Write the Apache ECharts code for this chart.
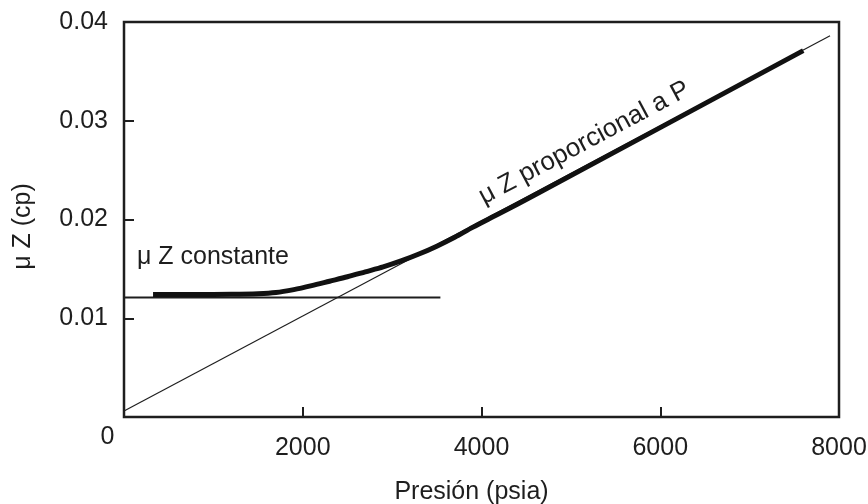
<!DOCTYPE html>
<html>
<head>
<meta charset="utf-8">
<script src="https://cdn.jsdelivr.net/npm/echarts@6/dist/echarts.min.js"></script>
<style>
html,body{margin:0;padding:0;background:#fff;}
#c{width:868px;height:504px;}
</style>
</head>
<body>
<div id="c"></div>
<script>
// Data
var xTicks = [0, 2000, 4000, 6000, 8000];
var yTicks = [0, 0.01, 0.02, 0.03, 0.04];
var thinLineP = [0, 7900];
var thinLineMuZ = [0.0006, 0.0386];
var constLineP = [0, 3540];
var constLineMuZ = [0.0121, 0.0121];
var curveP = [325, 800, 1200, 1500, 1700, 1900, 2100, 2300, 2500, 2700, 2900, 3100, 3300, 3500, 3700, 3900, 4200, 4600, 7600];
var curveMuZ = [0.0124, 0.0124, 0.01242, 0.01248, 0.0126, 0.0129, 0.0133, 0.01375, 0.0142, 0.0147, 0.0152, 0.0158, 0.0165, 0.0173, 0.0182, 0.0192, 0.0206, 0.0225, 0.0371];
var xName = 'Presión (psia)';
var yName = 'μ Z (cp)';
var annotConst = {text: 'μ Z constante', p: 145, v: 0.0162};
var annotProp = {text: 'μ Z proporcional a P', p: 5150, v: 0.02775};

function zip(a, b) { return a.map(function (v, i) { return [v, b[i]]; }); }

var FONT = 'Liberation Sans, Arial, Helvetica, sans-serif';
var FS = 25;
var INK = '#1e1e1e';

var chart = echarts.init(document.getElementById('c'), null, {renderer: 'canvas'});
var option = {
  animation: false,
  backgroundColor: '#ffffff',
  grid: {left: 124, right: 29, top: 22, bottom: 87, show: true, borderColor: INK, borderWidth: 2.5,
         backgroundColor: 'transparent', containLabel: false, outerBoundsMode: 'none'},
  xAxis: {
    type: 'value', min: xTicks[0], max: xTicks[xTicks.length - 1], interval: 2000,
    name: xName, nameLocation: 'middle', nameGap: 63,
    nameTextStyle: {fontSize: FS, fontFamily: FONT, color: INK, padding: [0, 20, 0, 0]},
    axisLine: {show: false},
    axisTick: {show: true, inside: true, length: 10, lineStyle: {color: INK, width: 2}},
    splitLine: {show: false},
    axisLabel: {margin: 19, fontSize: FS, fontFamily: FONT, color: INK,
      formatter: function (v) { return v === 0 ? '' : String(v); }}
  },
  yAxis: {
    type: 'value', min: yTicks[0], max: yTicks[yTicks.length - 1], interval: 0.01,
    name: yName, nameLocation: 'middle', nameGap: 88,
    nameTextStyle: {fontSize: FS, fontFamily: FONT, color: INK, padding: [0, 14, 0, 0]},
    axisLine: {show: false},
    axisTick: {show: true, inside: true, length: 10, lineStyle: {color: INK, width: 2}},
    splitLine: {show: false},
    axisLabel: {margin: 16, fontSize: FS, fontFamily: FONT, color: INK,
      formatter: function (v) { return v === 0 ? '' : v.toFixed(2); }}
  },
  series: [
    {type: 'line', data: zip(thinLineP, thinLineMuZ), symbol: 'none', lineStyle: {color: INK, width: 1.2}, z: 3},
    {type: 'line', data: zip(constLineP, constLineMuZ), symbol: 'none', lineStyle: {color: INK, width: 2.2}, z: 3},
    {type: 'line', data: zip(curveP, curveMuZ), symbol: 'none', smooth: 0.3,
     lineStyle: {color: '#111', width: 5, cap: 'butt', join: 'round'}, z: 4}
  ]
};
chart.setOption(option);

var pc = chart.convertToPixel({gridIndex: 0}, [annotConst.p, annotConst.v]);
var pp = chart.convertToPixel({gridIndex: 0}, [annotProp.p, annotProp.v]);
var p0 = chart.convertToPixel({gridIndex: 0}, [xTicks[0], yTicks[0]]);
chart.setOption({
  graphic: [
    {type: 'text', x: pc[0], y: pc[1], style: {text: annotConst.text, font: FS + 'px ' + FONT, fill: INK, align: 'left', verticalAlign: 'middle'}},
    {type: 'text', x: pp[0], y: pp[1], rotation: 28 * Math.PI / 180, style: {text: annotProp.text, font: '26px ' + FONT, fill: INK, align: 'center', verticalAlign: 'middle'}},
    {type: 'text', x: p0[0] - 16.5, y: p0[1] + 20.5, style: {text: '0', font: FS + 'px ' + FONT, fill: INK, align: 'center', verticalAlign: 'middle'}}
  ]
});
</script>
</body>
</html>
